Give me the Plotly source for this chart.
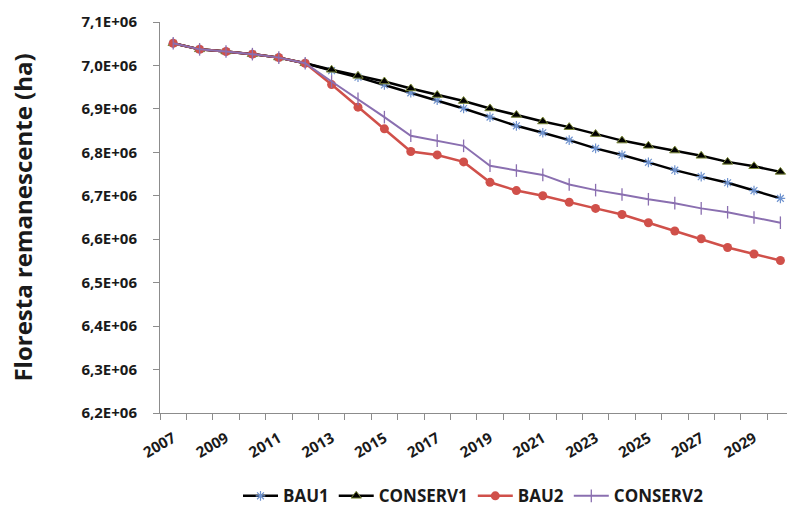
import plotly.graph_objects as go

years = list(range(2007, 2031))

bau1 = [7.051e6, 7.037e6, 7.032e6, 7.026e6, 7.018e6, 7.005e6,
        6.988e6, 6.973e6, 6.955e6, 6.937e6, 6.920e6, 6.901e6,
        6.881e6, 6.861e6, 6.845e6, 6.828e6, 6.809e6, 6.794e6,
        6.777e6, 6.759e6, 6.744e6, 6.730e6, 6.712e6, 6.694e6]
conserv1 = [7.051e6, 7.037e6, 7.032e6, 7.026e6, 7.018e6, 7.005e6,
            6.990e6, 6.976e6, 6.963e6, 6.947e6, 6.932e6, 6.918e6,
            6.901e6, 6.886e6, 6.871e6, 6.858e6, 6.842e6, 6.827e6,
            6.815e6, 6.804e6, 6.792e6, 6.778e6, 6.768e6, 6.755e6]
bau2 = [7.051e6, 7.037e6, 7.032e6, 7.026e6, 7.018e6, 7.005e6,
        6.956e6, 6.904e6, 6.854e6, 6.802e6, 6.794e6, 6.778e6,
        6.731e6, 6.712e6, 6.700e6, 6.685e6, 6.671e6, 6.657e6,
        6.638e6, 6.619e6, 6.601e6, 6.581e6, 6.566e6, 6.551e6]
conserv2 = [7.051e6, 7.037e6, 7.032e6, 7.026e6, 7.018e6, 7.005e6,
            6.963e6, 6.923e6, 6.881e6, 6.838e6, 6.827e6, 6.815e6,
            6.769e6, 6.758e6, 6.748e6, 6.726e6, 6.713e6, 6.703e6,
            6.692e6, 6.683e6, 6.671e6, 6.662e6, 6.650e6, 6.638e6]

y_ticks = [6.2e6 + i * 1e5 for i in range(10)]
y_ticktext = [f"{v/1e6:.1f}".replace(".", ",") + "E+06" for v in y_ticks]
x_tickvals = list(range(2007, 2030, 2))
x_ticktext = [str(y) for y in x_tickvals]

FONT = "Open Sans"
TXT = "#1a1a1a"

fig = go.Figure()
fig.add_trace(go.Scatter(
    x=years, y=bau1, name="BAU1", mode="lines+markers",
    line=dict(color="black", width=2.5),
    marker=dict(symbol="asterisk-open", size=8, color="#6f93cf",
                line=dict(color="#6f93cf", width=1.2))))
fig.add_trace(go.Scatter(
    x=years, y=conserv1, name="CONSERV1", mode="lines+markers",
    line=dict(color="black", width=2.5),
    marker=dict(symbol="triangle-up", size=9, color="black",
                line=dict(color="#7d8a3a", width=1))))
fig.add_trace(go.Scatter(
    x=years, y=bau2, name="BAU2", mode="lines+markers",
    line=dict(color="#d0504a", width=2.5),
    marker=dict(symbol="circle", size=9, color="#d0504a")))
fig.add_trace(go.Scatter(
    x=years, y=conserv2, name="CONSERV2", mode="lines+markers",
    line=dict(color="#8a6fb0", width=2),
    marker=dict(symbol="line-ns-open", size=9, color="#8a6fb0",
                line=dict(color="#7a62a0", width=1.3))))

fig.update_layout(
    width=787, height=508,
    margin=dict(l=160, r=0, t=22, b=95, autoexpand=False),
    paper_bgcolor="white", plot_bgcolor="white",
    font=dict(family=FONT, color=TXT),
    showlegend=True,
    legend=dict(orientation="h", x=0.5, xanchor="center", y=-0.213, yanchor="middle",
                font=dict(family=FONT, size=17, color=TXT, weight="bold"),
                itemwidth=35, tracegroupgap=0),
    xaxis=dict(
        range=[2006.5, 2030.25], showgrid=False, zeroline=False, automargin=False,
        showline=True, linecolor="#8c8c8c", linewidth=1,
        tickmode="array", tickvals=x_tickvals, ticktext=x_ticktext,
        ticks="", tickangle=-30, ticklabelstandoff=10,
        tickfont=dict(family=FONT, size=15, color=TXT, weight="bold"),
        minor=dict(ticks="outside", ticklen=6, tickcolor="#8c8c8c",
                   tick0=2006.5, dtick=1, showgrid=False),
    ),
    yaxis=dict(
        range=[6.2e6, 7.1e6], showgrid=False, zeroline=False, automargin=False,
        showline=True, linecolor="#8c8c8c", linewidth=1,
        tickmode="array", tickvals=y_ticks, ticktext=y_ticktext,
        ticks="outside", ticklen=6, tickcolor="#8c8c8c", ticklabelstandoff=13,
        tickfont=dict(family=FONT, size=15, color=TXT, weight="bold"),
        title=dict(text="Floresta remanescente (ha)", standoff=42,
                   font=dict(family=FONT, size=24, color=TXT, weight="bold")),
    ),
)

fig.write_html("out.html", config={"displayModeBar": False},
               post_script="document.body.style.margin='0';document.body.style.overflow='hidden';")
